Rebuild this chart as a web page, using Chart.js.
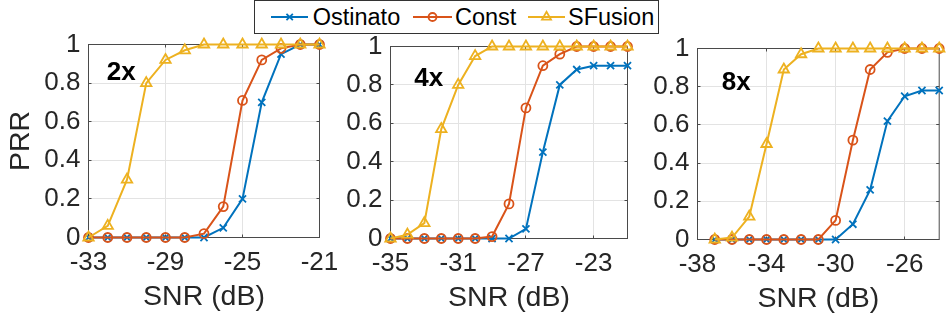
<!DOCTYPE html>
<html><head><meta charset="utf-8">
<script src="https://cdn.jsdelivr.net/npm/chart.js@4"></script>
<style>
html,body{margin:0;padding:0;background:#fff;width:947px;height:320px;overflow:hidden;position:relative;}
canvas{position:absolute;left:0;top:0;}
#legend{position:absolute;left:254px;top:0px;width:405px;height:34px;box-sizing:border-box;border:1px solid #333;background:#fff;font-family:"Liberation Sans",Arial,sans-serif;color:#000;}
#legend span{position:absolute;top:0;height:32px;line-height:32px;font-size:23.5px;white-space:nowrap;}
#legend svg{position:absolute;top:0;}
</style></head><body>
<canvas id="c2x" width="947" height="320"></canvas>
<canvas id="c4x" width="947" height="320"></canvas>
<canvas id="c8x" width="947" height="320"></canvas>
<div id="legend"></div>
<script>
// ---------- data ----------
const seriesNames = ['Ostinato', 'Const', 'SFusion'];
const panelLabels = ['2x', '4x', '8x'];
const yTicks = [0, 0.2, 0.4, 0.6, 0.8, 1];

const snr2x = [-33,-32,-31,-30,-29,-28,-27,-26,-25,-24,-23,-22,-21];
const ostinato2x = [0,0,0,0,0,0,0,0.05,0.2,0.7,0.95,1,1];
const const2x    = [0,0,0,0,0,0,0.02,0.16,0.71,0.92,0.98,1,1];
const sfusion2x  = [0,0.06,0.3,0.8,0.92,0.97,1,1,1,1,1,1,1];
const xTicks2x = [-33,-29,-25,-21];
const xRange2x = [-33,-21];

const snr4x = [-35,-34,-33,-32,-31,-30,-29,-28,-27,-26,-25,-24,-23,-22,-21];
const ostinato4x = [0,0,0,0,0,0,0,0,0.05,0.45,0.8,0.88,0.9,0.9,0.9];
const const4x    = [0,0,0,0,0,0,0.01,0.18,0.68,0.9,0.96,1,1,1,1];
const sfusion4x  = [0,0.02,0.08,0.57,0.8,0.95,1,1,1,1,1,1,1,1,1];
const xTicks4x = [-35,-31,-27,-23];
const xRange4x = [-35,-21];

const snr8x = [-37,-36,-35,-34,-33,-32,-31,-30,-29,-28,-27,-26,-25,-24];
const ostinato8x = [0,0,0,0,0,0,0,0,0.08,0.26,0.62,0.75,0.78,0.78];
const const8x    = [0,0,0,0,0,0,0,0.1,0.52,0.89,0.98,1,1,1];
const sfusion8x  = [0,0.01,0.12,0.5,0.89,0.97,1,1,1,1,1,1,1,1];
const xTicks8x = [-38,-34,-30,-26];
const xRange8x = [-38,-24];

// ---------- styles ----------
const FONT = '"Liberation Sans", Arial, Helvetica, sans-serif';
const TEXT = '#262626';
const colors = ['#0072BD', '#D95319', '#EDB120'];
const pointStyles = ['crossRot', 'circle', 'triangle'];
const pointRadii = [5, 4.5, 6];
const drawOrder = [2, 1, 0];

Chart.defaults.font.family = FONT;
Chart.defaults.color = TEXT;

const decorPlugin = {
  id: 'decor',
  beforeDatasetsDraw(chart, args, opts) {
    const {ctx, chartArea: a, scales: {x, y}} = chart;
    ctx.save();
    ctx.strokeStyle = '#4a4a4a';
    ctx.lineWidth = 1;
    ctx.beginPath();
    x.ticks.forEach(t => {
      const p = Math.round(x.getPixelForValue(t.value) - 0.5) + 0.5;
      ctx.moveTo(p, a.bottom); ctx.lineTo(p, a.bottom - 3);
      ctx.moveTo(p, a.top); ctx.lineTo(p, a.top + 3);
    });
    y.ticks.forEach(t => {
      const p = Math.round(y.getPixelForValue(t.value) - 0.5) + 0.5;
      ctx.moveTo(a.left, p); ctx.lineTo(a.left + 3, p);
      ctx.moveTo(a.right, p); ctx.lineTo(a.right - 3, p);
    });
    ctx.stroke();
    ctx.strokeRect(a.left, a.top, a.right - a.left, a.bottom - a.top);
    ctx.restore();
  },
  afterDatasetsDraw(chart, args, opts) {
    const {ctx, scales: {x, y}} = chart;
    ctx.save();
    ctx.font = 'bold 26px ' + FONT;
    ctx.fillStyle = '#000';
    ctx.textAlign = 'left';
    ctx.textBaseline = 'middle';
    ctx.fillText(opts.text, x.getPixelForValue(opts.at[0]), y.getPixelForValue(opts.at[1]));
    ctx.restore();
  }
};

function makePanel(id, snr, series, xTicks, xRange, label, labelAt, box, showYTitle) {
  const yw = showYTitle ? box.L : 70;
  const xh = 320 - box.B;
  const titleLH = 28.5 * 1.2;
  const datasets = series.map((vals, i) => ({
    label: seriesNames[i],
    data: snr.map((s, k) => ({x: s, y: vals[k]})),
    borderColor: colors[i],
    backgroundColor: colors[i],
    pointBackgroundColor: 'rgba(0,0,0,0)',
    pointBorderColor: colors[i],
    pointStyle: pointStyles[i],
    pointRadius: pointRadii[i],
    pointBorderWidth: 1.8,
    borderWidth: 2,
    tension: 0,
    clip: false,
    order: drawOrder[i]
  }));
  return new Chart(document.getElementById(id), {
    type: 'line',
    data: {datasets},
    plugins: [decorPlugin],
    options: {
      responsive: false,
      animation: false,
      events: [],
      layout: {padding: {left: box.L - yw, right: 947 - box.R, top: box.T, bottom: 0}},
      plugins: {
        legend: {display: false},
        tooltip: {enabled: false},
        decor: {text: label, at: labelAt}
      },
      scales: {
        x: {
          type: 'linear',
          min: xRange[0], max: xRange[1],
          afterBuildTicks: s => { s.ticks = xTicks.map(v => ({value: v})); },
          afterFit: s => { s.height = xh; },
          ticks: {font: {size: 26}, color: TEXT, padding: 9.5, maxRotation: 0, autoSkip: false,
                  callback: v => String(v)},
          grid: {color: '#e3e3e3', lineWidth: 1, drawTicks: false},
          border: {display: false},
          title: {display: true, text: 'SNR (dB)', font: {size: 28.5}, color: TEXT,
                  padding: {top: 0, bottom: 320 - box.B - 59.5 - titleLH / 2}}
        },
        y: {
          type: 'linear',
          min: 0, max: 1,
          afterBuildTicks: s => { s.ticks = yTicks.map(v => ({value: v})); },
          afterFit: s => { s.width = yw; },
          ticks: {font: {size: 26}, color: TEXT, padding: 8, callback: v => String(v)},
          grid: {color: '#e3e3e3', lineWidth: 1, drawTicks: false},
          border: {display: false},
          title: {display: showYTitle, text: 'PRR', font: {size: 28.5}, color: TEXT,
                  padding: {top: 4, bottom: 0}}
        }
      }
    }
  });
}

makePanel('c2x', snr2x, [ostinato2x, const2x, sfusion2x], xTicks2x, xRange2x,
  panelLabels[0], [-32.05, 0.855], {L: 88.5, R: 319.5, T: 44.5, B: 237.5}, true);
makePanel('c4x', snr4x, [ostinato4x, const4x, sfusion4x], xTicks4x, xRange4x,
  panelLabels[1], [-33.6, 0.83], {L: 390.5, R: 627.5, T: 46.5, B: 238.5}, false);
makePanel('c8x', snr8x, [ostinato8x, const8x, sfusion8x], xTicks8x, xRange8x,
  panelLabels[2], [-36.6, 0.822], {L: 697.5, R: 940.5, T: 48.5, B: 239.5}, false);

// ---------- legend ----------
const legendSlots = [{l: 270.7, r: 308, t: 312.7}, {l: 413, r: 452, t: 455}, {l: 528, r: 565, t: 568}];
const legend = document.getElementById('legend');
const ox = 255; // legend left + border
seriesNames.forEach((name, i) => {
  const s = legendSlots[i];
  const w = s.r - s.l, cx = w / 2, cy = 16;
  let marker = '';
  const c = colors[i];
  if (pointStyles[i] === 'crossRot') {
    const d = 3.2;
    marker = `<path d="M${cx-d} ${cy-d}L${cx+d} ${cy+d}M${cx-d} ${cy+d}L${cx+d} ${cy-d}" stroke="${c}" stroke-width="1.8" fill="none"/>`;
  } else if (pointStyles[i] === 'circle') {
    marker = `<circle cx="${cx}" cy="${cy}" r="4" stroke="${c}" stroke-width="1.8" fill="none"/>`;
  } else {
    const r = 5.2;
    const pts = [0, 120, 240].map(a => {
      const rad = a * Math.PI / 180;
      return (cx + Math.sin(rad) * r).toFixed(2) + ',' + (cy - Math.cos(rad) * r).toFixed(2);
    }).join(' ');
    marker = `<polygon points="${pts}" stroke="${c}" stroke-width="1.8" fill="none"/>`;
  }
  const svg = `<svg style="left:${s.l - ox}px" width="${w}" height="32"><line x1="0" y1="${cy}" x2="${w}" y2="${cy}" stroke="${c}" stroke-width="2"/>${marker}</svg>`;
  legend.insertAdjacentHTML('beforeend', svg + `<span style="left:${s.t - ox}px">${name}</span>`);
});
</script>
</body></html>
